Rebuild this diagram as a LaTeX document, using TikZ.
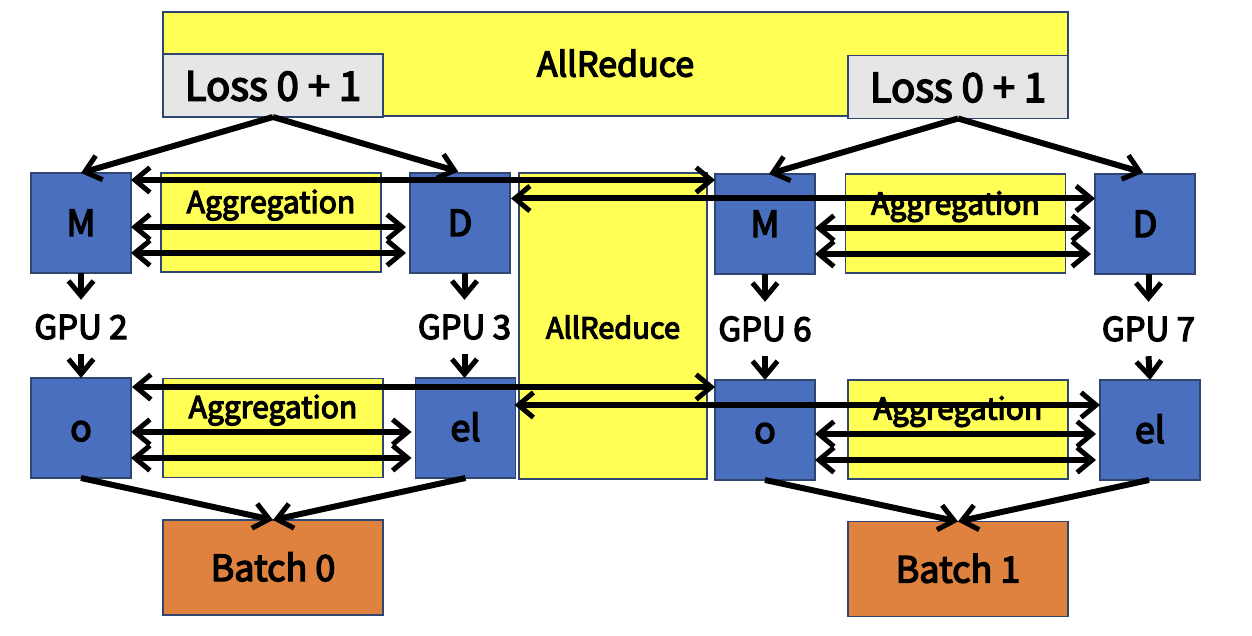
\documentclass[tikz,border=0pt]{standalone}
\usepackage{fontspec}
\setmainfont{Noto Sans CJK KR}[BoldFont={Noto Sans CJK KR}, BoldFeatures={FakeBold=4}]
\usetikzlibrary{arrows.meta,calc}
\definecolor{boxblue}{HTML}{4A6FBE}
\definecolor{edgeblue}{HTML}{2F4670}
\definecolor{aryellow}{HTML}{FFFF55}
\definecolor{lossgrey}{HTML}{E6E6E6}
\definecolor{batchorange}{HTML}{E0823F}
\tikzset{
  x=1pt,y=-1pt,
  base/.style={draw=edgeblue,line width=1.5pt,inner sep=0pt,outer sep=0pt,anchor=center},
  gpubox/.style={base,fill=boxblue,minimum width=100pt,minimum height=100pt,font=\fontsize{36}{36}\selectfont\bfseries,text height=26pt,text depth=0pt},
  aggbox/.style={base,fill=aryellow,minimum width=220pt,minimum height=99pt},
  aggtext/.style={inner sep=0pt,font=\fontsize{30}{30}\selectfont\bfseries,text height=23pt,text depth=0pt},
  arbox/.style={base,fill=aryellow,text height=25pt,text depth=0pt},
  lossbox/.style={base,fill=lossgrey,minimum width=220pt,minimum height=63pt,font=\fontsize{40}{40}\selectfont\bfseries,text height=30pt,text depth=0pt},
  batchbox/.style={base,fill=batchorange,minimum width=220pt,minimum height=95pt,font=\fontsize{36}{36}\selectfont\bfseries,text height=27pt,text depth=0pt},
  gpulabel/.style={inner sep=0pt,minimum height=54pt,font=\fontsize{33}{33}\selectfont\bfseries,text height=24pt,text depth=0pt},
  tip/.tip={Straight Barb[length=15pt,width=25pt,line width=5pt]},
  arr/.style={line width=6pt,-tip},
  dbl/.style={line width=6pt,tip-tip},
}
\begin{document}
\begin{tikzpicture}
\useasboundingbox (0,0) rectangle (1252,636);
% top AllReduce
\node[arbox,minimum width=905pt,minimum height=104pt,font=\fontsize{34}{34}\selectfont\bfseries] (ARtop) at (615.5,64) {AllReduce};
\node[lossbox] (L1) at (273,85.5) {Loss 0 + 1};
\node[lossbox] (L2) at (958,87) {Loss 0 + 1};
% middle AllReduce
\node[arbox,minimum width=188pt,minimum height=306pt,font=\fontsize{29}{29}\selectfont\bfseries] (ARmid) at (613,326) {AllReduce};
% top row
\node[gpubox] (M1) at (81,223) {M};
\node[aggbox] (A1) at (271,222.5) {};
\node[aggtext] (A1t) at (271,201.5) {Aggregation};
\node[gpubox] (D1) at (460,223) {D};
\node[gpubox] (M2) at (765,224) {M};
\node[aggbox] (A2) at (955.5,223.5) {};
\node[aggtext] (A2t) at (955.5,203) {Aggregation};
\node[gpubox] (D2) at (1145,224) {D};
% GPU labels
\node[gpulabel] (G2) at (81,327) {GPU 2};
\node[gpulabel] (G3) at (464.5,327) {GPU 3};
\node[gpulabel] (G6) at (765,329) {GPU 6};
\node[gpulabel] (G7) at (1148.5,329) {GPU 7};
% bottom row
\node[gpubox] (O1) at (81,428) {o};
\node[aggbox] (B1) at (273,428) {};
\node[aggtext] (B1t) at (273,406.5) {Aggregation};
\node[gpubox] (E1) at (465.5,428) {el};
\node[gpubox] (O2) at (765,430) {o};
\node[aggbox] (B2) at (958,429.5) {};
\node[aggtext] (B2t) at (958,408) {Aggregation};
\node[gpubox] (E2) at (1150,430) {el};
% batches
\node[batchbox] (Bt0) at (273,567.5) {Batch 0};
\node[batchbox] (Bt1) at (958,569) {Batch 1};
% loss arrows
\draw[arr] (L1.south) -- (M1.north);
\draw[arr,shorten >=5pt] (L1.south) -- ([xshift=3pt]D1.north);
\draw[arr] (L2.south) -- ([xshift=4pt]M2.north);
\draw[arr,shorten >=5pt] (L2.south) -- ([xshift=3pt]D2.north);
% down arrows
\draw[arr] (M1.south) -- (G2.north);
\draw[arr] (G2.south) -- (O1.north);
\draw[arr] (G3.north |- D1.south) -- (G3.north);
\draw[arr] (G3.south) -- (G3.south |- E1.north);
\draw[arr] (M2.south) -- (G6.north);
\draw[arr] (G6.south) -- (O2.north);
\draw[arr] (G7.north |- D2.south) -- (G7.north);
\draw[arr] (G7.south) -- (E2.north);
% long cross arrows
\draw[dbl] ($(M1.north east)+(0,7)$) coordinate (c1) -- (c1 -| M2.west);
\draw[dbl] ($(D1.north east)+(1,25.5)$) coordinate (c2) -- (c2 -| D2.west);
\draw[dbl] ($(O1.north east)+(1,9)$) coordinate (c3) -- (c3 -| O2.west);
\draw[dbl] ($(E1.north east)+(-1,27)$) coordinate (c4) -- (c4 -| E2.west);
% short double arrows
\foreach \a/\b in {M1/D1,M2/D2,O1/E1,O2/E2}{
  \draw[dbl,shorten >=4pt] ($(\a.east)+(0,4)$) coordinate (s1) -- (s1 -| \b.west);
  \draw[dbl,shorten >=4pt] ($(\a.east)+(0,30)$) coordinate (s2) -- (s2 -| \b.west);
}
% batch arrows
\draw[arr] (O1.south) -- (Bt0.north);
\draw[arr] (E1.south) -- (Bt0.north);
\draw[arr] (O2.south) -- (Bt1.north);
\draw[arr] ([xshift=-1pt]E2.south) -- (Bt1.north);
\end{tikzpicture}
\end{document}
